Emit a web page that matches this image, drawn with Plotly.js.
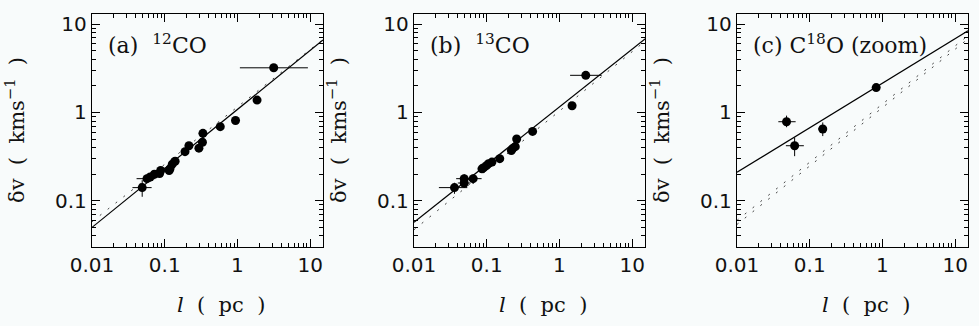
<!DOCTYPE html>
<html>
<head>
<meta charset="utf-8">
<script src="https://cdn.plot.ly/plotly-3.0.1.min.js"></script>
<style>html,body{margin:0;padding:0;background:#f8fbfb}</style>
</head>
<body>
<div id="graph" style="width:979px;height:326px"></div>
<script>
// panel (a) 12CO
const aL    = [3.15, 1.86, 0.94, 0.58, 0.335, 0.33, 0.295, 0.215, 0.19, 0.139, 0.127, 0.118, 0.115, 0.088, 0.085, 0.072, 0.063, 0.057, 0.049];
const aV    = [3.2, 1.38, 0.81, 0.69, 0.58, 0.46, 0.394, 0.42, 0.36, 0.28, 0.26, 0.23, 0.22, 0.22, 0.203, 0.2, 0.186, 0.178, 0.141];
const aLlo  = [1.08, 1.86, 0.94, 0.58, 0.335, 0.33, 0.295, 0.215, 0.19, 0.125, 0.115, 0.105, 0.1, 0.075, 0.075, 0.062, 0.055, 0.041, 0.036];
const aLhi  = [9.3, 1.86, 0.94, 0.58, 0.335, 0.33, 0.295, 0.215, 0.19, 0.155, 0.14, 0.135, 0.13, 0.1, 0.095, 0.085, 0.075, 0.074, 0.066];
const aVlo  = [3.2, 1.38, 0.81, 0.69, 0.58, 0.46, 0.394, 0.42, 0.36, 0.26, 0.24, 0.2, 0.2, 0.2, 0.185, 0.18, 0.165, 0.16, 0.111];
const aVhi  = [3.2, 1.38, 0.81, 0.69, 0.58, 0.46, 0.394, 0.42, 0.36, 0.30, 0.28, 0.26, 0.245, 0.24, 0.225, 0.22, 0.205, 0.195, 0.171];

// panel (b) 13CO
const bL    = [2.3, 1.49, 0.427, 0.258, 0.247, 0.227, 0.218, 0.151, 0.118, 0.106, 0.099, 0.091, 0.086, 0.065, 0.049, 0.049, 0.036];
const bV    = [2.63, 1.19, 0.61, 0.50, 0.41, 0.39, 0.37, 0.30, 0.274, 0.263, 0.25, 0.237, 0.23, 0.178, 0.178, 0.159, 0.141];
const bLlo  = [1.4, 1.49, 0.427, 0.258, 0.247, 0.227, 0.218, 0.14, 0.108, 0.098, 0.092, 0.085, 0.078, 0.05, 0.038, 0.04, 0.022];
const bLhi  = [3.8, 1.49, 0.427, 0.258, 0.247, 0.227, 0.218, 0.163, 0.128, 0.115, 0.107, 0.098, 0.094, 0.085, 0.065, 0.06, 0.054];
const bVlo  = [2.63, 1.19, 0.61, 0.5, 0.41, 0.39, 0.37, 0.28, 0.26, 0.25, 0.235, 0.22, 0.21, 0.155, 0.16, 0.14, 0.12];
const bVhi  = [2.63, 1.19, 0.61, 0.5, 0.41, 0.39, 0.37, 0.32, 0.29, 0.28, 0.265, 0.255, 0.25, 0.2, 0.2, 0.18, 0.16];

// panel (c) C18O
const cL    = [0.82, 0.048, 0.062, 0.151];
const cV    = [1.91, 0.785, 0.42, 0.65];
const cLlo  = [0.82, 0.037, 0.047, 0.13];
const cLhi  = [0.82, 0.064, 0.083, 0.17];
const cVlo  = [1.91, 0.68, 0.32, 0.54];
const cVhi  = [1.91, 0.92, 0.52, 0.77];

// fitted relations (end points)
const fitL  = [0.01, 15];
const aFit  = [0.05, 6.6];
const aRef  = [0.058, 6.7];
const bFit  = [0.057, 6.8];
const bRef  = [0.047, 6.4];
const cFit  = [0.21, 8.4];
const cRef1 = [0.06, 7.4];
const cRef2 = [0.054, 6.8];

const xTicks = [0.01, 0.1, 1, 10];
const xTickText = ['0.01', '0.1', '1', '10'];
const yTicks = [0.1, 1, 10];
const yTickText = ['0.1', '1', '10'];

const minorX = [], minorY = [];
for (let d = -2; d <= 1; d++) for (let k = 2; k <= 9; k++) minorX.push(k * Math.pow(10, d));
for (let d = -2; d <= 1; d++) for (let k = 2; k <= 9; k++) minorY.push(k * Math.pow(10, d));

function errs(v, lo, hi) {
  return {
    type: 'data', symmetric: false,
    array: hi.map((h, i) => h - v[i]),
    arrayminus: lo.map((l, i) => v[i] - l),
    color: '#000', thickness: 1, width: 0
  };
}

function panel(ax, L, V, Llo, Lhi, Vlo, Vhi, fit, refs) {
  const xa = ax === 1 ? 'x' : 'x' + ax, ya = ax === 1 ? 'y' : 'y' + ax;
  const out = refs.map(r => ({
    x: fitL, y: r, xaxis: xa, yaxis: ya, mode: 'lines',
    line: { color: '#444', width: 1, dash: '2px,8px' }, hoverinfo: 'skip'
  }));
  out.push({ x: fitL, y: fit, xaxis: xa, yaxis: ya, mode: 'lines', line: { color: '#000', width: 1.2 } });
  out.push({
    x: L, y: V, xaxis: xa, yaxis: ya, mode: 'markers',
    marker: { color: '#000', size: 9 },
    error_x: errs(L, Llo, Lhi), error_y: errs(V, Vlo, Vhi)
  });
  return out;
}

const data = [].concat(
  panel(1, aL, aV, aLlo, aLhi, aVlo, aVhi, aFit, [aRef]),
  panel(2, bL, bV, bLlo, bLhi, bVlo, bVhi, bFit, [bRef]),
  panel(3, cL, cV, cLlo, cLhi, cVlo, cVhi, cFit, [cRef1, cRef2])
);

const W = 979, H = 326;
const tickFont = { family: 'DejaVu Sans', size: 20, color: '#111' };
function xAxis(left, right, anchor) {
  return {
    type: 'log', range: [-2, Math.log10(15)], domain: [left / W, right / W], anchor: anchor,
    tickmode: 'array', tickvals: xTicks, ticktext: xTickText,
    ticks: 'inside', ticklen: 8, tickcolor: '#000', mirror: 'allticks',
    showline: true, linecolor: '#000', linewidth: 1.2, showgrid: false, zeroline: false,
    minor: { tickmode: 'array', tickvals: minorX, ticks: 'inside', ticklen: 4, tickcolor: '#000', showgrid: false },
    tickfont: tickFont
  };
}
function yAxis(anchor) {
  return {
    type: 'log', range: [Math.log10(0.03), Math.log10(13)], domain: [(H - 247) / H, (H - 14) / H], anchor: anchor,
    tickmode: 'array', tickvals: yTicks, ticktext: yTickText,
    ticks: 'inside', ticklen: 8, tickcolor: '#000', mirror: 'allticks',
    showline: true, linecolor: '#000', linewidth: 1.2, showgrid: false, zeroline: false,
    minor: { tickmode: 'array', tickvals: minorY, ticks: 'inside', ticklen: 4, tickcolor: '#000', showgrid: false },
    tickfont: tickFont
  };
}

const serif = { family: 'DejaVu Serif', size: 21, color: '#111' };
const lefts = [92, 414, 737];
const labels = ['(a)  <sup>12</sup>CO', '(b)  <sup>13</sup>CO', '(c) C<sup>18</sup>O (zoom)'];
const annotations = [];
lefts.forEach((x0, i) => {
  annotations.push({ xref: 'paper', yref: 'paper', x: (x0 + 14) / W, y: (H - 44) / H, xanchor: 'left', yanchor: 'middle',
    text: labels[i], showarrow: false, font: { family: 'DejaVu Serif', size: 22, color: '#111' } });
  annotations.push({ xref: 'paper', yref: 'paper', x: (x0 + 129) / W, y: (H - 305) / H, xanchor: 'center', yanchor: 'middle',
    text: '<i>l</i>  (  pc  )', showarrow: false, font: serif });
  annotations.push({ xref: 'paper', yref: 'paper', x: (x0 - 77) / W, y: (H - 130) / H, xanchor: 'center', yanchor: 'middle',
    text: 'δv  (  kms<sup>−1</sup>  )', textangle: -90, showarrow: false, font: serif });
});

const layout = {
  width: W, height: H, showlegend: false,
  margin: { l: 0, r: 0, t: 0, b: 0 },
  paper_bgcolor: '#f8fbfb', plot_bgcolor: '#f8fbfb',
  xaxis: xAxis(92, 323, 'y'), yaxis: yAxis('x'),
  xaxis2: xAxis(414, 645, 'y2'), yaxis2: yAxis('x2'),
  xaxis3: xAxis(737, 968, 'y3'), yaxis3: yAxis('x3'),
  annotations: annotations
};

Plotly.newPlot('graph', data, layout, { staticPlot: true });
</script>
</body>
</html>
